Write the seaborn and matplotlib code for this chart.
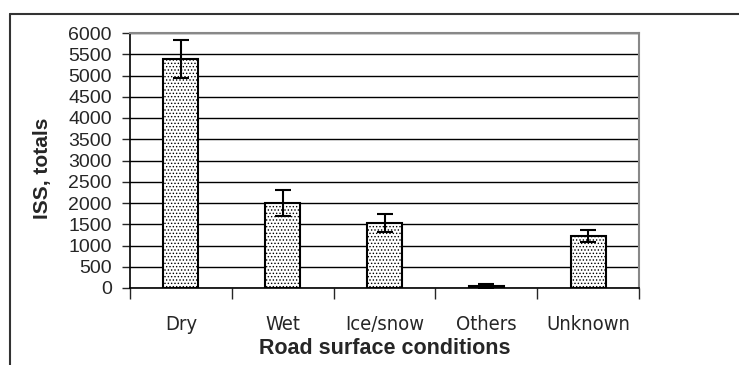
import pandas as pd
import matplotlib.pyplot as plt
import matplotlib.lines as mlines
import seaborn as sns
from matplotlib import font_manager

# Data
conditions = ["Dry", "Wet", "Ice/snow", "Others", "Unknown"]
iss_totals = [5380, 1990, 1520, 50, 1230]
err_low = [440, 290, 200, 40, 140]
err_high = [460, 320, 230, 50, 140]

df = pd.DataFrame({"condition": conditions, "iss": iss_totals})

sns.set_style("white")
plt.rcParams["font.family"] = ["Liberation Sans", "DejaVu Sans"]
plt.rcParams["hatch.color"] = "#555555"
plt.rcParams["hatch.linewidth"] = 0.6

# look for a narrow / condensed face for the category labels
narrow_fp = None
for f in font_manager.fontManager.ttflist:
    if "Narrow" in f.name or "Condensed" in f.name or f.stretch in ("condensed", "semi-condensed"):
        if "Bold" not in f.fname and "Oblique" not in f.fname and "Italic" not in f.fname:
            narrow_fp = font_manager.FontProperties(fname=f.fname, size=14.5)
            break
if narrow_fp is None:
    narrow_fp = font_manager.FontProperties(family="Liberation Sans", size=12)

fig = plt.figure(figsize=(7.39, 3.65), dpi=100)
ax = fig.add_axes([130 / 739, 1 - 288 / 365, 509 / 739, 255 / 365])

sns.barplot(data=df, x="condition", y="iss", ax=ax, color="white",
            edgecolor="black", linewidth=1.5, width=0.345, saturation=1)
for p in ax.patches:
    p.set_hatch(".....")

ax.errorbar(range(len(conditions)), iss_totals, yerr=[err_low, err_high],
            fmt="none", ecolor="black", elinewidth=1.5, capsize=6, capthick=1.5)

# y axis
ax.set_ylim(0, 6000)
ax.set_yticks(range(0, 6001, 500))
ax.yaxis.grid(True, color="black", linewidth=1)
ax.set_axisbelow(True)
ax.tick_params(axis="y", which="major", left=True, length=6, width=1,
               labelsize=14, pad=7)

# x axis: ticks at category boundaries, labels in the middle
ax.set_xlim(-0.5, len(conditions) - 0.5)
ax.set_xticks([i - 0.5 for i in range(len(conditions) + 1)])
ax.set_xticklabels([])
ax.set_xticks(range(len(conditions)), minor=True)
ax.set_xticklabels(conditions, minor=True, fontproperties=narrow_fp)
ax.tick_params(axis="x", which="major", bottom=True, length=8, width=1)
ax.tick_params(axis="x", which="minor", bottom=False, length=0, pad=19.5)

for side in ["left", "bottom"]:
    ax.spines[side].set_color("black")
    ax.spines[side].set_linewidth(1.2)
for side in ["top", "right"]:
    ax.spines[side].set_visible(True)
    ax.spines[side].set_color("#888888")
    ax.spines[side].set_linewidth(1.5)

ax.set_xlabel("Road surface conditions", fontsize=15.5, fontweight="bold")
ax.xaxis.set_label_coords(0.5, -0.237)
ax.xaxis.label.set_va("center")
ax.set_ylabel("ISS, totals", fontsize=15, fontweight="bold")
ax.yaxis.set_label_coords(-0.172, 0.47)
ax.yaxis.label.set_va("center")

# outer chart frame (top and left edges)
fig.add_artist(mlines.Line2D([10 / 739, 1], [1 - 14 / 365] * 2,
                             color="#333333", linewidth=1.5))
fig.add_artist(mlines.Line2D([10 / 739] * 2, [0, 1 - 14 / 365],
                             color="#333333", linewidth=1.5))

fig.savefig("out.png", dpi=100)
plt.close(fig)
